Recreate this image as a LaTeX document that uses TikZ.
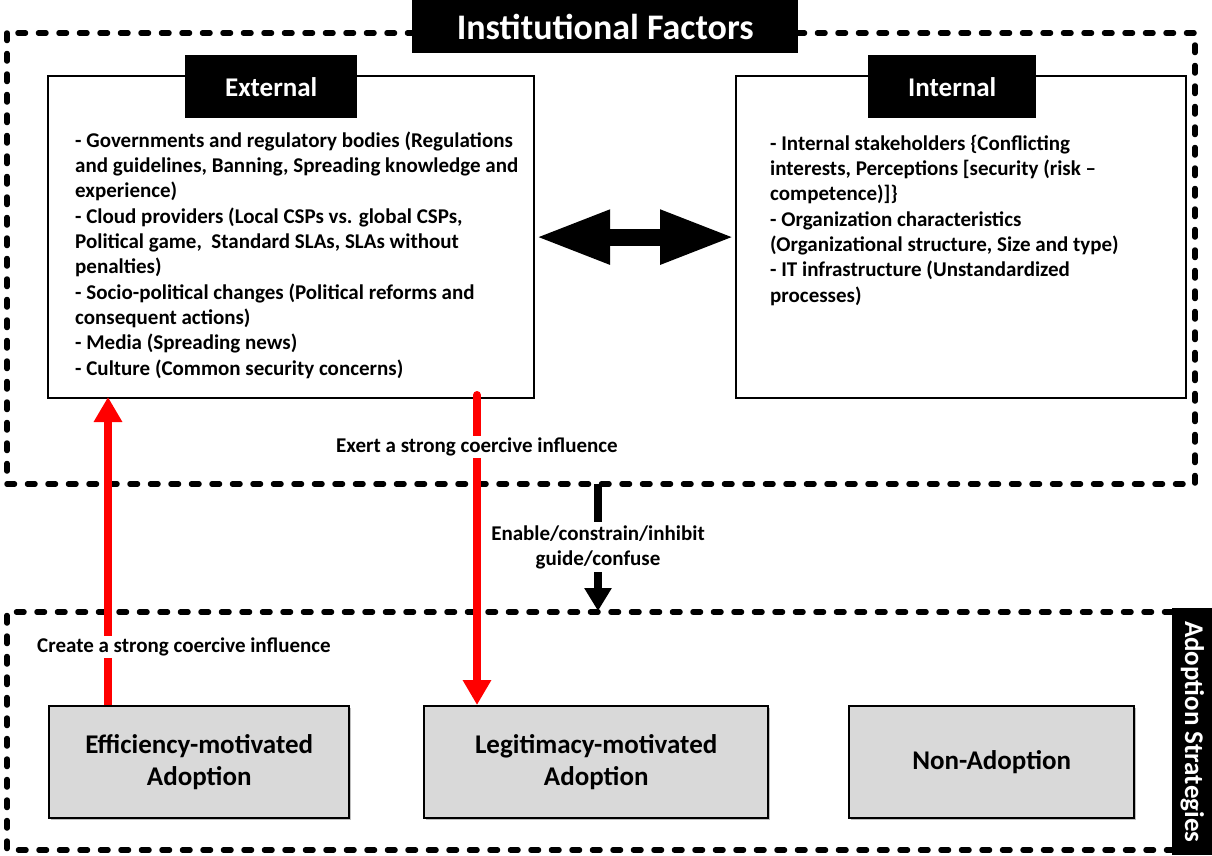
\documentclass[tikz,border=0pt]{standalone}
\usepackage{fontspec}
\setmainfont{Carlito}
\usetikzlibrary{arrows.meta,shadows}
\begin{document}
\begin{tikzpicture}[x=1pt,y=-1pt,
  font=\bfseries,
  dashedframe/.style={line width=5.5pt, dash pattern=on 7.5pt off 13pt, line cap=round},
  titlebar/.style={fill=black, text=white, inner sep=0pt, anchor=north west},
  factorbox/.style={draw=black, line width=2.2pt, fill=white, inner sep=0pt, anchor=north west},
  listtext/.style={anchor=base west, align=left, inner sep=0pt, font=\bfseries\fontsize{21}{25.3}\selectfont},
  strategy/.style={draw=black, line width=2.4pt, fill={rgb,255:red,217;green,217;blue,217}, inner sep=0pt, anchor=north west,
    align=center, font=\bfseries\fontsize{27}{32}\selectfont,
    drop shadow={shadow xshift=2pt, shadow yshift=-2pt, opacity=0.25, fill=black}},
  redarrow/.style={draw={rgb,255:red,255;green,0;blue,0}, line width=8pt},
  cutlabel/.style={fill=white, inner sep=2pt, font=\bfseries\fontsize{21}{25}\selectfont},
]
\useasboundingbox (0,0) rectangle (1212,855);

% outer frames
\draw[dashedframe] (7,33) rectangle (1195,484);
\draw[dashedframe] (1172,612) -- (7,612) -- (7,850) -- (1172,850);

% section titles
\node[titlebar, minimum width=386pt, minimum height=53pt, font=\bfseries\fontsize{36}{40}\selectfont] (inst) at (412,0) {Institutional Factors};
\node[titlebar, minimum width=40pt, minimum height=247pt] (adoptbar) at (1172,608) {};
\node[text=white, rotate=-90, font=\bfseries\fontsize{27}{30}\selectfont] (adopt) at (adoptbar.center) {Adoption Strategies};

% external / internal factor boxes
\node[factorbox, minimum width=486pt, minimum height=322pt] (ext) at (47,75) {};
\node[factorbox, minimum width=450pt, minimum height=322pt] (int) at (735,75) {};
\node[titlebar, minimum width=172pt, minimum height=63pt, font=\bfseries\fontsize{27}{30}\selectfont] (exttitle) at (185,55) {External};
\node[titlebar, minimum width=168pt, minimum height=63pt, font=\bfseries\fontsize{27}{30}\selectfont] (inttitle) at (868,55) {Internal};

% factor lists (anchored at the baseline of their last line)
\node[listtext] (extlist) at (75,375) {%
- Governments and regulatory bodies (Regulations\\
and guidelines, Banning, Spreading knowledge and\\
experience)\\
- Cloud providers (Local CSPs vs. global CSPs,\\
Political game, \ Standard SLAs, SLAs without\\
penalties)\\
- Socio-political changes (Political reforms and\\
consequent actions)\\
- Media (Spreading news)\\
- Culture (Common security concerns)};

\node[listtext] (intlist) at (770,302) {%
- Internal stakeholders \{Conflicting\\
interests, Perceptions [security (risk --\\
competence)]\}\\
- Organization characteristics\\
(Organizational structure, Size and type)\\
- IT infrastructure (Unstandardized\\
processes)};

% two-way relation between external and internal factors
\draw[line width=17pt, {Triangle[width=50pt,length=75pt]}-{Triangle[width=50pt,length=75pt]}] (ext.east) -- (int.west);

% adoption strategies
\node[strategy, minimum width=300pt, minimum height=112pt] (eff) at (48,705) {Efficiency-motivated\\Adoption};
\node[strategy, minimum width=344pt, minimum height=112pt] (leg) at (423,705) {Legitimacy-motivated\\Adoption};
\node[strategy, minimum width=285pt, minimum height=112pt] (non) at (848,705) {Non-Adoption};

% coercive influences
\coordinate (effTop) at (108,705);
\coordinate (extBotL) at (108,397);
\coordinate (extBotR) at (477,395);
\coordinate (legTop) at (477,705);
\draw[redarrow, -{Triangle[width=27pt,length=25pt]}] (effTop) -- (extBotL);
\draw[redarrow, line cap=round, -{Triangle[width=27pt,length=25pt]}] (extBotR) -- (legTop);
\node[cutlabel, anchor=west] (create) at (35,647) {Create a strong coercive influence};
\node[cutlabel] (exert) at (477,447) {Exert a strong coercive influence};

% institutional factors act on adoption strategies
\coordinate (instBot) at (598,484);
\coordinate (stratTop) at (598,611);
\draw[line width=8pt, -{Triangle[width=26pt,length=23pt]}] (instBot) -- (stratTop);
\node[cutlabel, align=center, inner sep=3pt] (enable) at (598,547) {Enable/constrain/inhibit\\guide/confuse};
\end{tikzpicture}
\end{document}
